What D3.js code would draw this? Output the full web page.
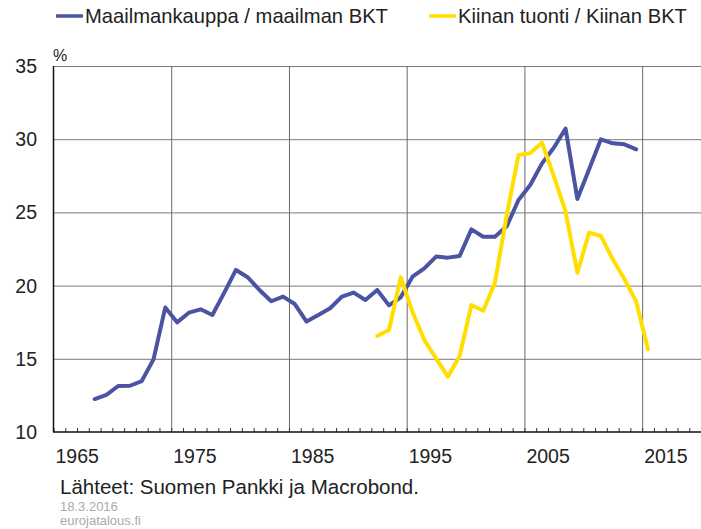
<!DOCTYPE html>
<html>
<head>
<meta charset="utf-8">
<script src="https://cdn.jsdelivr.net/npm/d3@7"></script>
<style>
  body { margin: 0; background: #fff; }
  text { font-family: "Liberation Sans", Arial, sans-serif; }
</style>
</head>
<body>
<div id="container-id-1"></div>
<script>

// data
/////////////////////
var world_years = d3.range(1968, 2015);
var world_values = [12.25, 12.53, 13.14, 13.16, 13.48, 14.96, 18.51, 17.49, 18.15, 18.38,
  17.99, 19.5, 21.07, 20.57, 19.7, 18.93, 19.25, 18.74, 17.54, 17.99,
  18.45, 19.25, 19.52, 19.02, 19.7, 18.65, 19.2, 20.61, 21.18, 21.98,
  21.91, 22.02, 23.84, 23.34, 23.34, 24.05, 25.85, 26.87, 28.35, 29.42,
  30.72, 25.92, 27.95, 29.99, 29.72, 29.65, 29.31];

var china_years = d3.range(1992, 2016);
var china_values = [16.56, 16.97, 20.57, 18.2, 16.28, 15.03, 13.78, 15.19, 18.67, 18.28,
  20.2, 24.8, 28.92, 29.05, 29.76, 27.5, 25.05, 20.88, 23.62, 23.39,
  21.8, 20.45, 18.9, 15.65];

var series_names = ['Maailmankauppa / maailman BKT', 'Kiinan tuonti / Kiinan BKT'];
var series_colors = ['#4a54a3', '#ffde00'];

var y_ticks = [10, 15, 20, 25, 30, 35];
var x_ticks = [1965, 1975, 1985, 1995, 2005, 2015];

var source_text = 'Lähteet: Suomen Pankki ja Macrobond.';
var date_text = '18.3.2016';
var site_text = 'eurojatalous.fi';

// make chart
////////////////////
var svg_width = 701;
var svg_height = 529;

var main_svg = d3.select('#container-id-1')
  .append('svg')
  .attr('width', svg_width)
  .attr('height', svg_height);

var x = d3.scaleTime()
  .domain([new Date(1965, 0, 1), new Date(2020, 0, 1)])
  .range([53.5, 701]);

var y = d3.scaleLinear()
  .domain([10, 35])
  .range([432, 66]);

// gridlines
main_svg.append('g')
  .attr('transform', 'translate(53.5,0)')
  .call(d3.axisLeft(y).tickValues(y_ticks.slice(1)).tickSize(-(701 - 53.5)).tickFormat(''))
  .call(function(g){
    g.select('.domain').remove();
    g.selectAll('line').attr('stroke', '#7a7a7a');
  });

main_svg.append('g')
  .attr('transform', 'translate(0,432)')
  .call(d3.axisBottom(x).tickValues(x_ticks.slice(1).map(function(d){ return new Date(d, 0, 1); }))
    .tickSize(-(432 - 66)).tickFormat(''))
  .call(function(g){
    g.select('.domain').remove();
    g.selectAll('line').attr('stroke', '#6a6a6a');
  });

// minor year ticks
main_svg.append('g')
  .attr('transform', 'translate(0,432)')
  .call(d3.axisBottom(x).ticks(d3.timeYear.every(1)).tickSize(-4).tickFormat(''))
  .call(function(g){
    g.select('.domain').remove();
    g.selectAll('line').attr('stroke', '#333');
  });

// axis lines
main_svg.append('line')
  .attr('x1', 53.5).attr('x2', 53.5)
  .attr('y1', y(35)).attr('y2', y(10))
  .attr('stroke', '#111').attr('stroke-width', 1.5);

main_svg.append('line')
  .attr('x1', 53).attr('x2', 701)
  .attr('y1', y(10)).attr('y2', y(10))
  .attr('stroke', '#111').attr('stroke-width', 1.5);

// tick labels
main_svg.selectAll('.y-label')
  .data(y_ticks)
  .enter()
  .append('text')
  .attr('x', 37)
  .attr('y', function(d){ return y(d) + 7; })
  .attr('text-anchor', 'end')
  .attr('font-size', '19.5px')
  .attr('fill', '#222')
  .text(function(d){ return d; });

main_svg.selectAll('.x-label')
  .data(x_ticks)
  .enter()
  .append('text')
  .attr('x', function(d){ return x(new Date(d, 0, 1)) + 2; })
  .attr('y', 463)
  .attr('font-size', '19.5px')
  .attr('fill', '#222')
  .text(function(d){ return d; });

main_svg.append('text')
  .attr('x', 53).attr('y', 61)
  .attr('font-size', '16px')
  .attr('fill', '#222')
  .text('%');

// lines
var line = d3.line()
  .x(function(d){ return x(new Date(d[0], 6, 1)); })
  .y(function(d){ return y(d[1]); });

var line_data = [
  d3.zip(world_years, world_values),
  d3.zip(china_years, china_values)
];

main_svg.selectAll('.series')
  .data(line_data)
  .enter()
  .append('path')
  .attr('d', line)
  .attr('fill', 'none')
  .attr('stroke', function(d, i){ return series_colors[i]; })
  .attr('stroke-width', 4)
  .attr('stroke-linejoin', 'round')
  .attr('stroke-linecap', 'round');

// legend
var legend_x = [56, 429];
var legend = main_svg.selectAll('.legend')
  .data(series_names)
  .enter()
  .append('g')
  .attr('transform', function(d, i){ return 'translate(' + legend_x[i] + ',16)'; });

legend.append('line')
  .attr('x1', 0).attr('x2', 27)
  .attr('stroke', function(d, i){ return series_colors[i]; })
  .attr('stroke-width', 3.5);

legend.append('text')
  .attr('x', 29).attr('y', 7)
  .attr('font-size', '20.2px')
  .attr('fill', '#222')
  .text(function(d){ return d; });

// footer
main_svg.append('text')
  .attr('x', 60).attr('y', 494)
  .attr('font-size', '20.5px')
  .attr('fill', '#222')
  .text(source_text);

main_svg.append('text')
  .attr('x', 60).attr('y', 511)
  .attr('font-size', '13px')
  .attr('fill', '#aaa')
  .text(date_text);

main_svg.append('text')
  .attr('x', 60).attr('y', 525)
  .attr('font-size', '13px')
  .attr('fill', '#aaa')
  .text(site_text);

</script>
</body>
</html>
